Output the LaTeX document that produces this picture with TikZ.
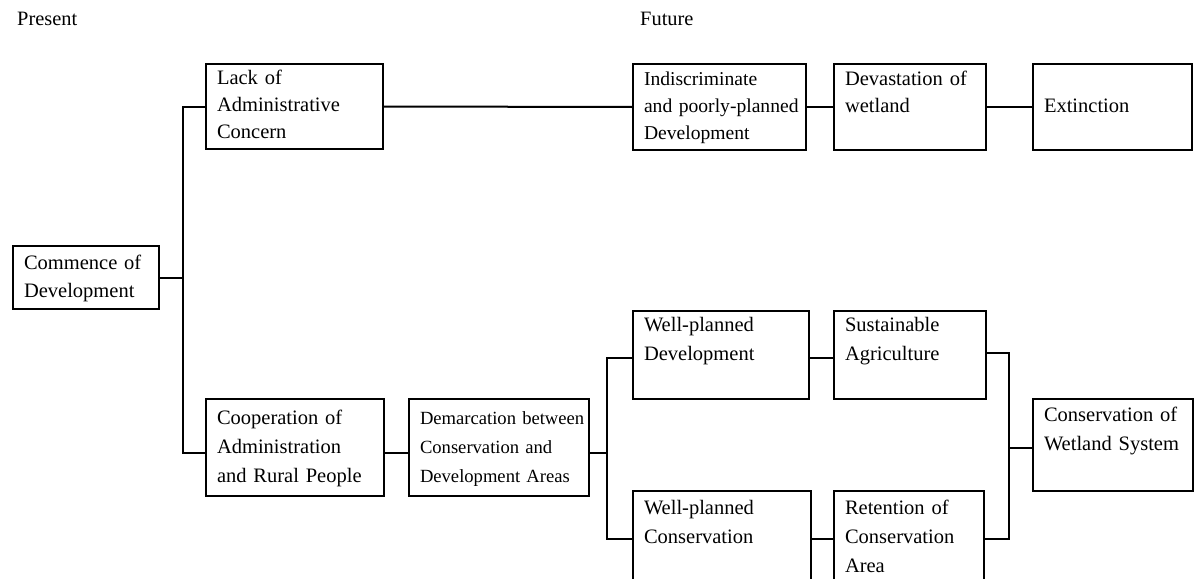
\documentclass[tikz,border=0pt]{standalone}
\usepackage{fontspec}
\setmainfont{Liberation Serif}
\begin{document}
\begin{tikzpicture}[x=1pt,y=-1pt]
\tikzset{
  box/.style={draw, line width=2pt, anchor=north west, inner xsep=11pt, inner ysep=0pt, align=left},
  toptext/.style={font=\fontsize{20.5}{27}\selectfont},
  narrowtext/.style={font=\fontsize{19.6}{27}\selectfont},
  midtext/.style={font=\fontsize{20.5}{28}\selectfont},
  bottext/.style={font=\fontsize{20.5}{29}\selectfont},
  smalltext/.style={font=\fontsize{18.6}{29}\selectfont},
  conn/.style={line width=2pt, line join=miter},
  heading/.style={anchor=base west, inner sep=0pt, font=\fontsize{20.4}{24}\selectfont}
}
\useasboundingbox (0,0) rectangle (1196,578);

\node[heading] (present) at (17,26) {Present};
\node[heading] (future) at (640,26) {Future};

% top row
\node[box, toptext, text width=155pt, minimum height=85pt] (lack) at (205,63) {\strut Lack of\\Administrative\\Concern\strut};
\node[box, narrowtext, text width=151pt, minimum height=86pt] (indis) at (632,63) {\strut Indiscriminate\\\mbox{and poorly-planned}\\Development\strut};
\node[box, toptext, text width=130pt, minimum height=86pt] (devast) at (833,63) {\strut Devastation of\\wetland\\\strut};
\node[box, toptext, text width=137pt, minimum height=86pt] (extinct) at (1032,63) {\strut\\Extinction\\\strut};

% start
\node[box, midtext, text width=124pt, minimum height=63pt] (commence) at (12,245) {\strut Commence of\\Development\strut};

% bottom part
\node[box, bottext, text width=156pt, minimum height=97pt] (coop) at (205,398) {\strut Cooperation of\\Administration\\\mbox{and Rural People}\strut};
\node[box, smalltext, text width=158pt, minimum height=97pt] (demarc) at (408,398) {\strut\mbox{Demarcation between}\\\mbox{Conservation and}\\\mbox{Development Areas}\strut};
\node[box, bottext, text width=154pt, minimum height=88pt] (wpd) at (632,310) {\strut Well-planned\\Development\\\strut};
\node[box, bottext, text width=130pt, minimum height=88pt] (sust) at (833,310) {\strut Sustainable\\Agriculture\\\strut};
\node[box, bottext, text width=138pt, minimum height=92pt] (cw) at (1032,398) {\strut\mbox{Conservation of}\\\mbox{Wetland System}\\\strut};
\node[box, bottext, text width=156pt, minimum height=94pt] (wpc) at (632,490) {\strut Well-planned\\Conservation\\\strut};
\node[box, bottext, text width=128pt, minimum height=94pt] (ret) at (833,490) {\strut Retention of\\Conservation\\Area\strut};

% junction columns
\coordinate (j1) at (183,0);
\coordinate (j2) at (607,0);
\coordinate (j3) at (1009,0);

% connectors
\draw[conn] (commence.east) -- (commence.east -| j1);
\draw[conn] (lack.west) -- (lack.west -| j1) -- ([yshift=-5.5pt]coop.west -| j1) -- ([yshift=-5.5pt]coop.west);
\draw[conn] (lack.east) -- (indis.west);
\draw[conn] (indis.east) -- (devast.west);
\draw[conn] (devast.east) -- (extinct.west);
\draw[conn] ([yshift=-5.5pt]coop.east) -- ([yshift=-5.5pt]demarc.west);
\draw[conn] ([yshift=-5.5pt]demarc.east) -- ([yshift=-5.5pt]demarc.east -| j2);
\draw[conn] ([yshift=-3pt]wpd.west) -- ([yshift=-3pt]wpd.west -| j2) -- ([yshift=-1pt]wpc.west -| j2) -- ([yshift=-1pt]wpc.west);
\draw[conn] ([yshift=-3pt]wpd.east) -- ([yshift=-3pt]sust.west);
\draw[conn] ([yshift=-1pt]wpc.east) -- ([yshift=-1pt]ret.west);
\draw[conn] ([yshift=2pt]sust.east) -- ([yshift=2pt]sust.east -| j3) -- ([yshift=-1pt]ret.east -| j3) -- ([yshift=-1pt]ret.east);
\draw[conn] ([yshift=-3pt]cw.west) -- ([yshift=-3pt]cw.west -| j3);
\end{tikzpicture}
\end{document}
